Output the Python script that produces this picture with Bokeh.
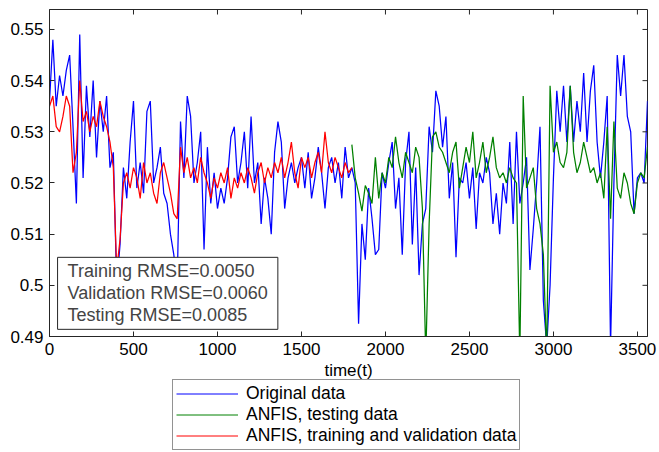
from bokeh.plotting import figure
from bokeh.layouts import column
from bokeh.models import Range1d, FixedTicker, Legend, LegendItem, Label
from bokeh.embed import file_html
from bokeh.resources import INLINE

# ---------------- data ----------------
orig_t = list(range(0, 3561, 20))
orig = [
    0.536, 0.548, 0.535, 0.541, 0.537, 0.542, 0.545, 0.531, 0.516, 0.549,
    0.521, 0.539, 0.529, 0.540, 0.525, 0.536, 0.530, 0.537, 0.523, 0.526,
    0.500, 0.508, 0.523, 0.517, 0.528, 0.536, 0.519, 0.524, 0.518, 0.534,
    0.536, 0.520, 0.523, 0.527, 0.518, 0.516, 0.510, 0.506, 0.500, 0.532,
    0.521, 0.537, 0.533, 0.520, 0.524, 0.530, 0.507, 0.527, 0.516, 0.522,
    0.515, 0.519, 0.516, 0.521, 0.529, 0.531, 0.520, 0.524, 0.530, 0.519,
    0.533, 0.520, 0.524, 0.512, 0.521, 0.517, 0.510, 0.526, 0.532, 0.528,
    0.515, 0.521, 0.524, 0.520, 0.523, 0.525, 0.519, 0.526, 0.517, 0.521,
    0.527, 0.522, 0.515, 0.523, 0.525, 0.520, 0.524, 0.517, 0.527, 0.521,
    0.523, 0.520, 0.4925, 0.512, 0.505, 0.519, 0.513, 0.506, 0.507, 0.522,
    0.519, 0.524, 0.528, 0.515, 0.521, 0.506, 0.524, 0.530, 0.508, 0.523,
    0.502, 0.512, 0.515, 0.531, 0.526, 0.538, 0.535, 0.527, 0.533, 0.517,
    0.524, 0.5055, 0.521, 0.520, 0.524, 0.517, 0.523, 0.511, 0.522, 0.520,
    0.525, 0.522, 0.512, 0.518, 0.510, 0.520, 0.516, 0.528, 0.512, 0.530,
    0.516, 0.520, 0.525, 0.503, 0.511, 0.520, 0.531, 0.497, 0.488, 0.500,
    0.521, 0.538, 0.530, 0.539, 0.528, 0.539, 0.528, 0.536, 0.530, 0.5415,
    0.528, 0.538, 0.543, 0.528, 0.521, 0.528, 0.537, 0.488, 0.520, 0.545,
    0.537, 0.545, 0.533, 0.530, 0.514, 0.521, 0.522, 0.520, 0.536,
]

train_t = list(range(0, 1801, 20))
train = [
    0.535, 0.537, 0.531, 0.530, 0.533, 0.537, 0.535, 0.522, 0.526, 0.540,
    0.532, 0.534, 0.530, 0.533, 0.531, 0.536, 0.533, 0.531, 0.528, 0.523,
    0.503, 0.509, 0.520, 0.522, 0.519, 0.523, 0.521, 0.517, 0.524, 0.520,
    0.522, 0.518, 0.516, 0.522, 0.524, 0.521, 0.518, 0.514, 0.513, 0.527,
    0.522, 0.525, 0.521, 0.523, 0.520, 0.525, 0.522, 0.520, 0.517, 0.521,
    0.519, 0.522, 0.520, 0.523, 0.517, 0.521, 0.519, 0.522, 0.520, 0.523,
    0.521, 0.518, 0.522, 0.524, 0.520, 0.523, 0.521, 0.524, 0.522, 0.525,
    0.521, 0.524, 0.528, 0.522, 0.519, 0.525, 0.523, 0.525, 0.521, 0.524,
    0.526, 0.522, 0.530, 0.524, 0.522, 0.525, 0.523, 0.521, 0.524, 0.522,
    0.523,
]

test_t = list(range(1800, 3561, 20))
test = [
    0.5275, 0.521, 0.518, 0.5145, 0.5195, 0.518, 0.516, 0.525, 0.517, 0.522,
    0.520, 0.525, 0.523, 0.529, 0.524, 0.521, 0.526, 0.524, 0.522, 0.527,
    0.525, 0.515, 0.486, 0.512, 0.529, 0.530, 0.527, 0.526, 0.524, 0.522,
    0.526, 0.528, 0.519, 0.523, 0.527, 0.524, 0.530, 0.521, 0.524, 0.528,
    0.522, 0.525, 0.529, 0.523, 0.521, 0.522, 0.520, 0.523, 0.521, 0.520,
    0.486, 0.537, 0.519, 0.521, 0.523, 0.515, 0.512, 0.506, 0.486, 0.539,
    0.526, 0.528, 0.524, 0.523, 0.526, 0.539, 0.526, 0.522, 0.524, 0.528,
    0.525, 0.522, 0.523, 0.520, 0.522, 0.517, 0.531, 0.513, 0.532, 0.519,
    0.517, 0.522, 0.520, 0.516, 0.514, 0.520, 0.522, 0.521, 0.527,
]

x_ticks = [0, 500, 1000, 1500, 2000, 2500, 3000, 3500]
y_ticks = [0.49, 0.50, 0.51, 0.52, 0.53, 0.54, 0.55]
y_tick_labels = ["0.49", "0.5", "0.51", "0.52", "0.53", "0.54", "0.55"]
x_label = "time(t)"
rmse_lines = ["Training RMSE=0.0050", "Validation RMSE=0.0060", "Testing RMSE=0.0085"]
legend_labels = ["Original data", "ANFIS, testing data", "ANFIS, training and validation data"]
colors = ["#0000ff", "#008000", "#ff0000"]

FONT = "Liberation Sans"
AX = "#262626"
X0, X1 = 0, 3560
Y0, Y1 = 0.49, 0.5539

p = figure(width=659, height=362, x_range=Range1d(X0, X1), y_range=Range1d(Y0, Y1),
           output_backend="svg", toolbar_location=None,
           min_border_left=49, min_border_right=12, min_border_top=9, min_border_bottom=26)
p.xgrid.visible = False
p.ygrid.visible = False
p.outline_line_color = AX
p.background_fill_color = "white"
p.border_fill_color = "white"

p.line(orig_t, orig, line_color=colors[0], line_width=1.25)
p.line(test_t, test, line_color=colors[1], line_width=1.25)
p.line(train_t, train, line_color=colors[2], line_width=1.25)

# inward ticks on the top and right edges of the box (MATLAB style)
tick_dx = (X1 - X0) * 5 / 598
tick_dy = (Y1 - Y0) * 5 / 327
p.segment(x_ticks, [Y1] * len(x_ticks), x_ticks, [Y1 - tick_dy] * len(x_ticks),
          line_color=AX, line_width=1)
p.segment([X1] * len(y_ticks), y_ticks, [X1 - tick_dx] * len(y_ticks), y_ticks,
          line_color=AX, line_width=1)

for ax in (p.xaxis[0], p.yaxis[0]):
    ax.axis_line_color = AX
    ax.major_tick_line_color = AX
    ax.major_tick_in = 5
    ax.major_tick_out = 0
    ax.minor_tick_line_color = None
    ax.major_label_text_font = FONT
    ax.major_label_text_color = "black"
    ax.major_label_text_font_size = "17px"
    ax.major_label_standoff = 6

p.xaxis.ticker = FixedTicker(ticks=x_ticks)
p.yaxis.ticker = FixedTicker(ticks=y_ticks)
p.yaxis.major_label_overrides = dict(zip(y_ticks, y_tick_labels))

box = Label(x=48, y=0.4914, text="\n".join(rmse_lines), text_font=FONT,
            text_font_size="18px", text_align="left", text_baseline="bottom",
            text_line_height=1.1, border_line_color=AX, border_line_width=1,
            background_fill_color="white", padding=(10, 4))
p.add_layout(box)

# ---------------- x-axis title and legend strip below ----------------
q = figure(width=659, height=90, x_range=Range1d(0, 1), y_range=Range1d(0, 90),
           output_backend="svg", toolbar_location=None,
           x_axis_location=None, y_axis_location=None,
           min_border_left=0, min_border_right=0, min_border_top=0, min_border_bottom=0)
q.xgrid.visible = False
q.ygrid.visible = False
q.outline_line_color = None
q.border_fill_color = "white"
q.background_fill_color = "white"

q.add_layout(Label(x=0.5, y=82, text=x_label, text_font=FONT, text_font_size="17px",
                   text_color="black", text_align="center", text_baseline="middle"))

nan = float("nan")
items = []
for lab, col in zip(legend_labels, colors):
    r = q.line([nan, nan], [nan, nan], line_color=col, line_width=1)
    items.append(LegendItem(label=lab, renderers=[r]))

legend = Legend(items=items, location=(123, 2), orientation="vertical",
                label_text_font=FONT, label_text_font_size="17.5px",
                label_text_color="black",
                label_height=21, glyph_height=21, glyph_width=62,
                label_standoff=8, spacing=0, padding=3, margin=0,
                border_line_color=AX, border_line_width=1,
                background_fill_color="white", background_fill_alpha=1)
q.add_layout(legend)

open("out.html", "w").write(file_html(column(p, q, spacing=0), INLINE))
